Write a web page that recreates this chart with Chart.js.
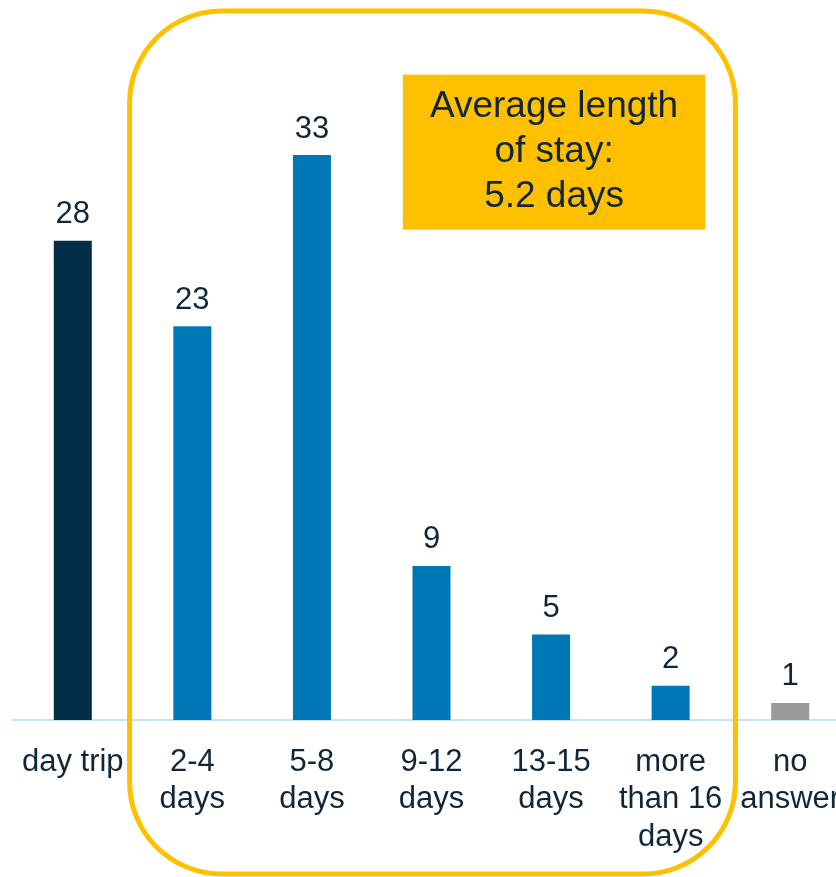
<!DOCTYPE html>
<html>
<head>
<meta charset="utf-8">
<script src="https://cdn.jsdelivr.net/npm/chart.js@4/dist/chart.umd.min.js"></script>
<style>
  html, body { margin: 0; padding: 0; background: #ffffff; overflow: hidden; }
  #wrap { position: relative; width: 850px; height: 877px; }
</style>
</head>
<body>
<div id="wrap"><canvas id="c" width="850" height="877"></canvas></div>
<script>
// Length of stay, share of respondents (%)
const categories = [
  ['day trip'],
  ['2-4', 'days'],
  ['5-8', 'days'],
  ['9-12', 'days'],
  ['13-15', 'days'],
  ['more', 'than 16', 'days'],
  ['no', 'answer']
];
const shares = [28, 23, 33, 9, 5, 2, 1];
const barColors = ['#022F47', '#0077B6', '#0077B6', '#0077B6', '#0077B6', '#0077B6', '#999999'];
const averageLines = ['Average length', 'of stay:', '5.2 days'];

const TEXT = '#10263A';
const GOLD = '#FFC000';
const FONT = '"Liberation Sans", Arial, sans-serif';

const decorations = {
  id: 'decorations',
  afterDatasetsDraw(chart) {
    const { ctx, scales: { x, y } } = chart;
    const meta = chart.getDatasetMeta(0);

    // value labels above bars
    ctx.save();
    ctx.fillStyle = TEXT;
    ctx.font = '31px ' + FONT;
    ctx.textAlign = 'center';
    ctx.textBaseline = 'middle';
    meta.data.forEach((bar, i) => {
      ctx.fillText(String(shares[i]), bar.x, bar.y - 26);
    });
    ctx.restore();

    // rounded outline around the overnight-stay categories
    const left = x.getPixelForValue(0.5) - 3;
    const right = x.getPixelForValue(5.5) + 5;
    const top = chart.chartArea.top + 10;
    const bottom = chart.height - 3;
    ctx.save();
    ctx.strokeStyle = GOLD;
    ctx.lineWidth = 5;
    ctx.beginPath();
    ctx.roundRect(left, top, right - left, bottom - top, 92);
    ctx.stroke();
    ctx.restore();

    // average box
    const bx0 = x.getPixelForValue(2.76);
    const bx1 = x.getPixelForValue(5.29);
    const by0 = y.getPixelForValue(37.7);
    const by1 = y.getPixelForValue(28.65);
    ctx.save();
    ctx.fillStyle = GOLD;
    ctx.fillRect(bx0, by0, bx1 - bx0, by1 - by0);
    ctx.fillStyle = TEXT;
    ctx.font = '37px ' + FONT;
    ctx.textAlign = 'center';
    ctx.textBaseline = 'middle';
    const cx = (bx0 + bx1) / 2;
    const cy = (by0 + by1) / 2;
    averageLines.forEach((t, i) => {
      ctx.fillText(t, cx, cy + (i - 1) * 45);
    });
    ctx.restore();
  }
};

new Chart(document.getElementById('c'), {
  type: 'bar',
  data: {
    labels: categories,
    datasets: [{
      data: shares,
      backgroundColor: barColors,
      borderWidth: 0,
      barPercentage: 0.318,
      categoryPercentage: 1
    }]
  },
  options: {
    responsive: false,
    devicePixelRatio: 1,
    animation: false,
    layout: { padding: { left: 13, right: 0, top: 1, bottom: 0 } },
    plugins: { legend: { display: false }, tooltip: { enabled: false } },
    scales: {
      x: {
        grid: { display: false, drawTicks: false },
        border: { display: true, color: '#C8E2F2', width: 2 },
        ticks: {
          color: TEXT,
          font: { family: FONT, size: 31, lineHeight: 1.2 },
          padding: 24,
          autoSkip: false,
          maxRotation: 0,
          minRotation: 0
        },
        afterFit(scale) {
          scale.height = 157;
          scale.paddingLeft = 0;
          scale.paddingRight = 0;
        }
      },
      y: {
        display: false,
        min: 0,
        max: 42
      }
    }
  },
  plugins: [decorations]
});
</script>
</body>
</html>
